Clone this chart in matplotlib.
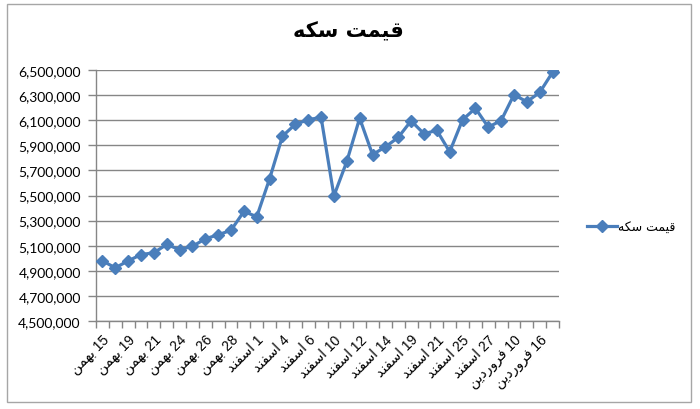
import matplotlib
matplotlib.use('Agg')
import matplotlib.pyplot as plt
from matplotlib.patches import Rectangle
from matplotlib.ticker import FuncFormatter, FixedLocator

# Chart data (coin price, Tomans)
TITLE = "قیمت سکه"
SERIES_NAME = "قیمت سکه"
prices = [4979000, 4924000, 4979000, 5029000, 5044000, 5110000, 5068000, 5095000,
          5155000, 5187000, 5223000, 5373000, 5331000, 5634000, 5973000, 6068000,
          6103000, 6124000, 5497000, 5771000, 6116000, 5826000, 5887000, 5963000,
          6095000, 5992000, 6019000, 5848000, 6103000, 6195000, 6045000, 6097000,
          6303000, 6247000, 6321000, 6482000]
# only every other category carries a visible label
date_labels = ["15 بهمن", "19 بهمن", "21 بهمن", "24 بهمن", "26 بهمن", "28 بهمن",
               "1 اسفند", "4 اسفند", "6 اسفند", "10 اسفند", "12 اسفند", "14 اسفند",
               "19 اسفند", "21 اسفند", "25 اسفند", "27 اسفند",
               "10 فروردین", "16 فروردین"]
y_ticks = list(range(4500000, 6500001, 200000))

# matplotlib has no Arabic shaping, so pick presentation forms by hand
# letter: (isolated, final, initial, medial)
FORMS = {
    'ا': ('\uFE8D', '\uFE8E', None, None),
    'ب': ('\uFE8F', '\uFE90', '\uFE91', '\uFE92'),
    'ت': ('\uFE95', '\uFE96', '\uFE97', '\uFE98'),
    'د': ('\uFEA9', '\uFEAA', None, None),
    'ر': ('\uFEAD', '\uFEAE', None, None),
    'س': ('\uFEB1', '\uFEB2', '\uFEB3', '\uFEB4'),
    'ف': ('\uFED1', '\uFED2', '\uFED3', '\uFED4'),
    'ق': ('\uFED5', '\uFED6', '\uFED7', '\uFED8'),
    'ک': ('\uFED9', '\uFEDA', '\uFEDB', '\uFEDC'),
    'م': ('\uFEE1', '\uFEE2', '\uFEE3', '\uFEE4'),
    'ن': ('\uFEE5', '\uFEE6', '\uFEE7', '\uFEE8'),
    'ه': ('\uFEE9', '\uFEEA', '\uFEEB', '\uFEEC'),
    'و': ('\uFEED', '\uFEEE', None, None),
    'ی': ('\uFEEF', '\uFEF0', '\uFEF3', '\uFEF4'),
}


def joins_forward(ch):
    return ch in FORMS and FORMS[ch][2] is not None


def shape_word(word):
    out = []
    for i, ch in enumerate(word):
        if ch not in FORMS:
            out.append(ch)
            continue
        prev = word[i - 1] if i > 0 else None
        nxt = word[i + 1] if i + 1 < len(word) else None
        jp = prev is not None and joins_forward(prev)
        jn = joins_forward(ch) and nxt in FORMS
        isol, fin, ini, med = FORMS[ch]
        if jp and jn:
            out.append(med)
        elif jp:
            out.append(fin)
        elif jn:
            out.append(ini)
        else:
            out.append(isol)
    return ''.join(out)


def rtl(text):
    parts = []
    for tok in text.split(' '):
        if any(c in FORMS for c in tok):
            parts.append(shape_word(tok)[::-1])
        else:
            parts.append(tok)
    return ' '.join(reversed(parts))


LINE_COLOR = '#4A7EBB'
AXIS_COLOR = '#868686'
FONT_LATIN = ['Liberation Sans', 'DejaVu Sans']

fig = plt.figure(figsize=(7, 4.1), dpi=100)
fig.patches.append(Rectangle((7 / 700, 1 - 403 / 410), 684 / 700, 398 / 410,
                             transform=fig.transFigure, fill=False,
                             edgecolor='#a6a6a6', linewidth=1))

ax = fig.add_axes([96 / 700, 1 - 322 / 410, 463 / 700, 251 / 410])

x = list(range(len(prices)))
ax.plot(x, prices, color=LINE_COLOR, linewidth=2.3, marker='D', markersize=6.5,
        markerfacecolor=LINE_COLOR, markeredgecolor=LINE_COLOR,
        label=rtl(SERIES_NAME), zorder=3)

ax.set_xlim(-0.5, len(prices) - 0.5)
ax.set_ylim(y_ticks[0], y_ticks[-1])

# category ticks sit between points, labels on every second point
ax.xaxis.set_major_locator(FixedLocator(list(range(0, len(prices), 2))))
ax.set_xticklabels([rtl(s) for s in date_labels], rotation=45, ha='right',
                   rotation_mode='anchor', family=FONT_LATIN, fontsize=10)
ax.xaxis.set_minor_locator(FixedLocator([i - 0.5 for i in range(len(prices) + 1)]))
ax.tick_params(axis='x', which='major', length=0, pad=8)
ax.tick_params(axis='x', which='minor', length=5, color=AXIS_COLOR, width=1)

ax.set_yticks(y_ticks)
ax.yaxis.set_major_formatter(FuncFormatter(lambda v, p: f"{int(v):,}"))
ax.tick_params(axis='y', length=6, color=AXIS_COLOR, width=1, pad=5, labelsize=10)
for lbl in ax.get_yticklabels():
    lbl.set_family(['Lato', 'DejaVu Sans'])

ax.grid(axis='y', color=AXIS_COLOR, linewidth=1)
ax.set_axisbelow(True)
for side in ['top', 'right']:
    ax.spines[side].set_visible(False)
for side in ['left', 'bottom']:
    ax.spines[side].set_color(AXIS_COLOR)
    ax.spines[side].set_linewidth(1)

fig.text(348 / 700, 1 - 31 / 410, rtl(TITLE), ha='center', va='center',
         fontsize=15, fontweight='bold', family=['DejaVu Sans'])

leg = fig.legend(loc='center left', bbox_to_anchor=(576 / 700, 1 - 228 / 410),
                 frameon=False, handlelength=2.4, handletextpad=0.1,
                 prop={'family': ['DejaVu Sans'], 'size': 9})

fig.savefig('out.png', dpi=100)
